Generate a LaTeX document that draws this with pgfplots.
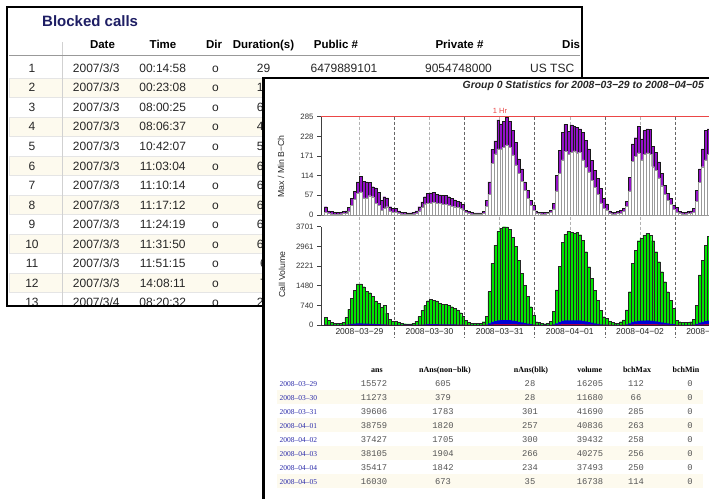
\documentclass[border=0pt]{standalone}
\usepackage{fontspec}
\setmainfont{Liberation Sans}
\newfontfamily\seriffont{Liberation Serif}
\newfontfamily\monofont{Liberation Mono}
\usepackage{pgfplots}
\pgfplotsset{compat=1.18}
\usepackage{pgfplotstable}
\definecolor{purp}{RGB}{148,18,200}
\definecolor{grn}{RGB}{0,230,0}
\definecolor{blu}{RGB}{0,0,215}
\definecolor{redl}{RGB}{235,70,70}
\definecolor{navy}{RGB}{30,30,100}
\definecolor{cream}{RGB}{253,250,238}
\definecolor{linkblue}{RGB}{45,45,170}
\definecolor{numgray}{RGB}{85,85,85}
\newcommand{\fs}[1]{\fontsize{#1}{#1}\selectfont}

\pgfplotstableread{
pmax pmin vol blue red
24 8 289 12 1
12 4 188 8 1
10 3 100 4 0
8 2 63 3 0
7 2 63 3 0
8 3 63 3 0
10 4 100 4 0
12 5 276 11 1
22 12 590 23 2
48 29 1004 40 3
69 45 1293 50 4
96 62 1544 60 5
112 67 1544 60 5
98 50 1443 56 4
96 50 1280 50 4
94 56 1217 47 4
82 53 1067 42 3
79 34 904 35 3
65 29 816 32 2
42 14 665 26 2
53 20 728 28 2
50 24 439 17 1
24 12 213 8 1
19 8 150 6 0
19 9 150 6 0
12 5 100 4 0
8 3 75 3 0
7 3 50 2 0
6 2 38 1 0
6 2 38 1 0
8 3 63 2 0
12 5 150 5 0
24 12 314 11 1
38 22 540 18 1
53 32 728 25 2
62 34 916 31 2
64 35 979 33 2
66 36 941 32 2
60 34 904 31 2
58 33 816 28 2
56 31 778 26 2
56 30 766 26 2
53 28 740 25 2
48 26 690 23 2
44 24 627 21 1
40 22 565 19 1
38 20 464 16 1
30 15 314 11 1
14 7 188 9 1
10 4 100 5 1
7 3 63 3 0
6 3 63 3 0
6 3 63 3 0
6 3 75 4 0
10 5 125 6 1
43 25 314 16 2
96 60 1255 63 9
190 149 2321 116 17
215 177 3012 150 22
276 192 3527 176 26
264 192 3640 182 27
271 197 3701 185 28
285 203 3690 184 27
271 197 3614 180 26
245 174 3300 165 24
211 145 2950 147 21
163 121 2447 122 18
134 97 1950 97 14
96 72 1506 75 11
72 48 1067 53 8
43 29 690 34 5
29 14 376 19 3
12 6 125 6 1
8 4 88 4 0
7 3 63 3 0
7 3 50 2 0
8 4 63 3 0
14 7 150 7 1
34 18 502 25 3
115 70 1318 66 8
187 120 2200 110 14
240 160 3112 156 20
263 185 3426 171 22
242 175 3514 176 22
261 182 3501 175 22
257 186 3451 173 22
255 180 3480 174 22
250 182 3400 170 21
240 160 3199 160 20
216 139 2760 138 17
192 125 2195 110 14
159 100 1756 88 11
130 80 1317 66 8
106 60 941 47 6
77 35 564 28 4
48 20 313 16 2
32 15 250 12 2
12 5 150 7 1
8 3 100 5 1
8 3 75 4 0
10 4 75 4 0
14 6 125 6 1
20 10 190 9 1
40 25 565 28 4
110 70 1254 63 9
206 155 2321 116 17
224 170 2823 141 21
257 180 3174 159 24
221 160 3262 163 25
245 175 3387 169 26
250 180 3450 172 26
248 175 3387 169 26
200 140 3174 159 24
182 130 2760 138 21
154 108 2384 119 18
120 85 2007 100 15
86 60 1631 82 12
62 42 1254 63 9
48 30 941 47 7
29 17 627 31 5
22 9 188 9 1
10 4 125 6 1
8 3 88 4 0
8 3 88 4 0
10 4 88 4 0
12 5 125 6 1
20 8 226 11 2
72 40 753 38 5
134 95 1883 94 13
192 140 2447 122 17
245 160 3012 150 21
250 175 3326 166 23
256 180 3400 170 24
}\hdata

\tikzset{
  lt/.style={anchor=base, inner sep=0pt, font=\fs{12}, text=black!85},
  lh/.style={anchor=base, inner sep=0pt, font={\fs{11.5}\bfseries}, text=black},
  mt/.style={anchor=base, inner sep=0pt, font={\monofont\fs{8.8}}, text=numgray},
  sh/.style={anchor=base, inner sep=0pt, font={\seriffont\fs{8}\bfseries}, text=black},
}

\newcommand{\lrow}[4]{%
  \pgfmathsetmacro{\yb}{-(72.3+19.55*(#1-1))}%
  \node[lt] at (32,\yb) {#1};
  \node[lt] at (96.3,\yb) {#2};
  \node[lt] at (162.7,\yb) {#3};
  \node[lt] at (215.5,\yb) {o};
  \node[lt] at (263.5,\yb) {#4};
}
\newcommand{\srow}[8]{%
  \pgfmathsetmacro{\yb}{-(386.1+14*(#1-1))}%
  \node[anchor=base west, inner sep=0pt, font={\seriffont\fs{7.5}}, text=linkblue] at (279.3,\yb) {#2};
  \node[mt] at (374,\yb) {#3};
  \node[mt] at (443,\yb) {#4};
  \node[mt] at (530,\yb) {#5};
  \node[mt] at (590,\yb) {#6};
  \node[mt] at (636,\yb) {#7};
  \node[mt] at (690,\yb) {#8};
}

\begin{document}
\begin{tikzpicture}[x=1pt,y=1pt]
\useasboundingbox (0,0) rectangle (709,-498);
\clip (0,0) rectangle (709,-498);
\fill[white] (0,0) rectangle (709,-498);

% ---------- left window ----------
\begin{scope}
\clip (6.5,-6.5) rectangle (582,-305.5);
\foreach \i in {2,4,6,8,10,12} {
  \pgfmathsetmacro{\yc}{68+19.55*(\i-1)}
  \filldraw[fill=cream, draw=black!10, line width=0.6pt] (9,{-\yc+9.3}) rectangle (580,{-\yc-9.3});
}
\draw[black!18, line width=0.8pt] (62,-42) -- (62,-306);
\draw[black!40, line width=1.6pt] (9,-55.3) -- (580,-55.3);
\node[anchor=base west, inner sep=0pt, text=navy, font={\fs{15}\bfseries}] at (42,-26) {Blocked calls};
\node[lh] at (102.5,-48) {Date};
\node[lh] at (163,-48) {Time};
\node[lh] at (214,-48) {Dir};
\node[lh] at (263.5,-48) {Duration(s)};
\node[lh] at (336,-48) {Public \#};
\node[lh] at (459.5,-48) {Private \#};
\node[lh, anchor=base west] at (562,-48) {Dis};
\lrow{1}{2007/3/3}{00:14:58}{29}
\node[lt] at (344,-72.3) {6479889101};
\node[lt] at (458.5,-72.3) {9054748000};
\node[lt, anchor=base west] at (530,-72.3) {US TSC};
\lrow{2}{2007/3/3}{00:23:08}{12}
\lrow{3}{2007/3/3}{08:00:25}{61}
\lrow{4}{2007/3/3}{08:06:37}{45}
\lrow{5}{2007/3/3}{10:42:07}{58}
\lrow{6}{2007/3/3}{11:03:04}{60}
\lrow{7}{2007/3/3}{11:10:14}{62}
\lrow{8}{2007/3/3}{11:17:12}{63}
\lrow{9}{2007/3/3}{11:24:19}{64}
\lrow{10}{2007/3/3}{11:31:50}{61}
\lrow{11}{2007/3/3}{11:51:15}{6}
\lrow{12}{2007/3/3}{14:08:11}{7}
\lrow{13}{2007/3/4}{08:20:32}{25}
\end{scope}
\draw[black, line width=2pt] (6.5,-6.5) rectangle (582,-305.5);

% ---------- right window ----------
\fill[white] (263.3,-77.7) rectangle (712,-500);
\draw[black, line width=2.4pt] (263.3,-500) -- (263.3,-77.7) -- (712,-77.7);

\node[anchor=base east, inner sep=0pt, font={\fs{10.4}\bfseries\itshape}, text=black!85] at (704,-88.5) {Group 0 Statistics for 2008−03−29 to 2008−04−05};

% day separators
\foreach \xx in {394.45,464.60,534.76,604.91,675.06} {
  \draw[black!60, line width=0.6pt, dash pattern=on 3pt off 2pt] (\xx,-116.7) -- (\xx,-337);
}
\foreach \xx in {359.38,429.53,499.68,569.83,639.98} {
  \draw[black!30, line width=0.6pt, dash pattern=on 3pt off 2pt] (\xx,-116.7) -- (\xx,-325);
}

\begin{axis}[
  at={(321pt,-215pt)}, anchor=south west, scale only axis,
  width=424.21pt, height=98.3pt,
  xmin=-1.129, xmax=144, ymin=0, ymax=285,
  clip=false,
  axis x line*=bottom, axis y line*=left,
  x axis line style={draw=black!55, line width=0.6pt},
  y axis line style={draw=black!75, line width=0.6pt},
  xtick=\empty,
  ytick={0,57,114,171,228,285},
  yticklabels={0,57,114,171,228,285},
  ytick align=outside, major tick length=4pt,
  ytick style={draw=black!75, line width=0.6pt},
  yticklabel style={font=\fs{7.8}, text=black!80},
  /pgf/number format/assume math mode=true,
]
\addplot[ybar, bar width=1, bar shift=0pt, fill=purp, draw=black!90, line width=0.4pt] table[x expr=\coordindex+0.5, y=pmax]{\hdata};
\addplot[ybar, bar width=1, bar shift=0pt, fill=white, draw=black!40, line width=0.35pt] table[x expr=\coordindex+0.5, y=pmin]{\hdata};
\addplot[redl, line width=0.7pt] coordinates {(-1.129,285) (144,285)};
\end{axis}

\begin{axis}[
  at={(321pt,-325pt)}, anchor=south west, scale only axis,
  width=424.21pt, height=98.3pt,
  xmin=-1.129, xmax=144, ymin=0, ymax=3701,
  clip=false,
  axis x line*=bottom, axis y line*=left,
  x axis line style={draw=black!80, line width=0.6pt},
  y axis line style={draw=black!75, line width=0.6pt},
  xtick={12,36,60,84,108,132},
  xticklabels={2008−03−29,2008−03−30,2008−03−31,2008−04−01,2008−04−02,2008−04−03},
  xtick style={draw=none},
  xticklabel style={font=\fs{8.5}, text=black!85},
  ytick={0,740,1480,2221,2961,3701},
  yticklabels={0,740,1480,2221,2961,3701},
  ytick align=outside, major tick length=4pt,
  ytick style={draw=black!75, line width=0.6pt},
  yticklabel style={font=\fs{7.8}, text=black!80},
  /pgf/number format/assume math mode=true,
]
\addplot[ybar, bar width=1, bar shift=0pt, fill=grn, draw=black!85, line width=0.35pt] table[x expr=\coordindex+0.5, y=vol]{\hdata};
\addplot[ybar, bar width=1, bar shift=0pt, fill=blu, draw=none] table[x expr=\coordindex+0.5, y=blue]{\hdata};
\addplot[ybar, bar width=1, bar shift=0pt, fill=red, draw=none] table[x expr=\coordindex+0.5, y=red]{\hdata};
\end{axis}

\node[text=redl, font=\fs{7.5}, inner sep=0pt] at (500,-110.5) {1 Hr};
\node[rotate=90, font=\fs{8.7}, inner sep=0pt, text=black!85] at (281,-166.3) {Max / Min B−Ch};
\node[rotate=90, font=\fs{8.7}, inner sep=0pt, text=black!85] at (282,-274.7) {Call Volume};

% ---------- summary table ----------
\foreach \yc in {397.3,425.3,453.3,481.3} {
  \fill[cream] (277,{-\yc+7}) rectangle (703,{-\yc-7});
}
\node[sh] at (377,-372.8) {ans};
\node[sh] at (445,-372.8) {nAns(non−blk)};
\node[sh] at (531,-372.8) {nAns(blk)};
\node[sh] at (589.7,-372.8) {volume};
\node[sh] at (637,-372.8) {bchMax};
\node[sh] at (686,-372.8) {bchMin};
\srow{1}{2008–03–29}{15572}{605}{28}{16205}{112}{0}
\srow{2}{2008–03–30}{11273}{379}{28}{11680}{66}{0}
\srow{3}{2008–03–31}{39606}{1783}{301}{41690}{285}{0}
\srow{4}{2008–04–01}{38759}{1820}{257}{40836}{263}{0}
\srow{5}{2008–04–02}{37427}{1705}{300}{39432}{258}{0}
\srow{6}{2008–04–03}{38105}{1904}{266}{40275}{256}{0}
\srow{7}{2008–04–04}{35417}{1842}{234}{37493}{250}{0}
\srow{8}{2008–04–05}{16030}{673}{35}{16738}{114}{0}
\end{tikzpicture}
\end{document}
